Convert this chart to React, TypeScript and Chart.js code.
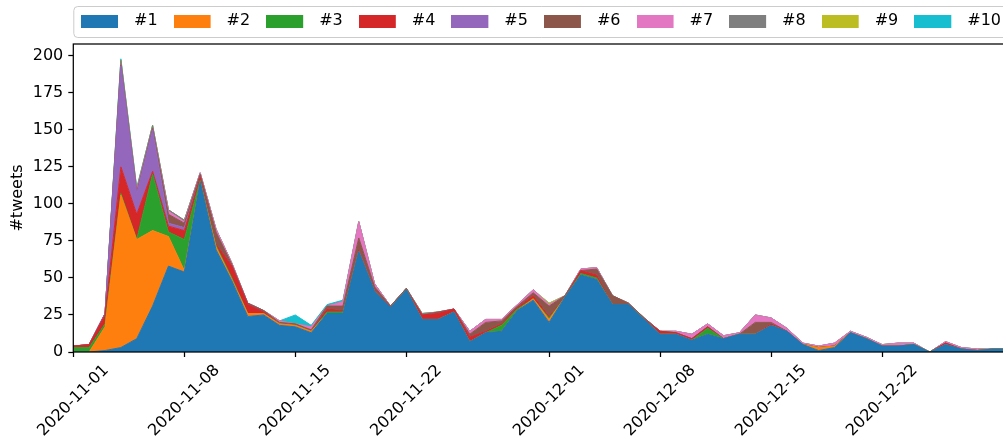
import React, { useEffect, useRef } from "react";
import { Chart, registerables } from "chart.js";

Chart.register(...registerables);

const dates = [
  "2020-11-01", "2020-11-02", "2020-11-03", "2020-11-04", "2020-11-05", "2020-11-06", "2020-11-07", "2020-11-08", "2020-11-09", "2020-11-10",
  "2020-11-11", "2020-11-12", "2020-11-13", "2020-11-14", "2020-11-15", "2020-11-16", "2020-11-17", "2020-11-18", "2020-11-19", "2020-11-20",
  "2020-11-21", "2020-11-22", "2020-11-23", "2020-11-24", "2020-11-25", "2020-11-26", "2020-11-27", "2020-11-28", "2020-11-29", "2020-11-30",
  "2020-12-01", "2020-12-02", "2020-12-03", "2020-12-04", "2020-12-05", "2020-12-06", "2020-12-07", "2020-12-08", "2020-12-09", "2020-12-10",
  "2020-12-11", "2020-12-12", "2020-12-13", "2020-12-14", "2020-12-15", "2020-12-16", "2020-12-17", "2020-12-18", "2020-12-19", "2020-12-20",
  "2020-12-21", "2020-12-22", "2020-12-23", "2020-12-24", "2020-12-25", "2020-12-26", "2020-12-27", "2020-12-28", "2020-12-29", "2020-12-30",
];

const tickLabels = ["2020-11-01", "2020-11-08", "2020-11-15", "2020-11-22", "2020-12-01", "2020-12-08", "2020-12-15", "2020-12-22"];
const yTicks = [0, 25, 50, 75, 100, 125, 150, 175, 200];

const seriesNames = ["#1", "#2", "#3", "#4", "#5", "#6", "#7", "#8", "#9", "#10"];
const colors = ["#1f77b4", "#ff7f0e", "#2ca02c", "#d62728", "#9467bd", "#8c564b", "#e377c2", "#7f7f7f", "#bcbd22", "#17becf"];

const s1 = [0, 0, 1, 3, 9, 31, 58, 54, 115, 69, 48, 24, 25, 18, 17, 13, 26, 26, 68, 41, 30, 42, 22, 22, 27, 7, 13, 14, 28, 35, 20, 37, 52, 49, 32, 32, 22, 12, 12, 8, 12, 9, 12, 12, 18, 14, 5, 1, 3, 13, 9, 4, 4, 5, 0, 5, 2, 1, 2, 2];
const s2 = [0, 0, 16, 103, 67, 51, 20, 1, 0, 2, 1, 2, 1, 1, 1, 1, 0, 0, 0, 0, 0, 0, 0, 0, 0, 0, 0, 0, 0, 1, 2, 0, 0, 0, 0, 0, 0, 0, 0, 0, 0, 0, 0, 0, 0, 0, 0, 2, 1, 0, 0, 0, 0, 0, 0, 0, 0, 0, 0, 0];
const s3 = [3, 3, 2, 1, 0, 38, 3, 21, 1, 1, 1, 0, 0, 0, 0, 0, 1, 1, 0, 0, 0, 0, 0, 0, 0, 0, 0, 4, 1, 0, 1, 0, 1, 1, 0, 0, 0, 0, 0, 0, 4, 0, 0, 0, 0, 0, 0, 0, 0, 0, 0, 0, 0, 0, 0, 0, 0, 0, 0, 0];
const s4 = [1, 2, 6, 18, 17, 2, 4, 6, 2, 1, 8, 6, 1, 0, 0, 0, 2, 1, 1, 1, 0, 0, 3, 4, 2, 3, 1, 1, 1, 2, 1, 0, 2, 2, 0, 0, 0, 2, 1, 1, 1, 0, 0, 0, 1, 0, 0, 0, 0, 0, 0, 0, 0, 0, 0, 1, 0, 0, 0, 0];
const s5 = [0, 0, 1, 68, 14, 28, 2, 2, 0, 0, 0, 0, 0, 0, 0, 0, 0, 0, 0, 0, 0, 0, 0, 0, 0, 0, 0, 0, 0, 0, 0, 0, 0, 0, 0, 0, 0, 0, 0, 0, 0, 0, 0, 0, 0, 0, 0, 0, 0, 0, 0, 0, 0, 0, 0, 0, 0, 0, 0, 0];
const s6 = [0, 0, 0, 1, 1, 1, 6, 3, 2, 8, 1, 1, 1, 1, 1, 1, 2, 3, 8, 2, 1, 1, 0, 1, 0, 2, 6, 2, 1, 2, 7, 1, 0, 4, 6, 1, 1, 0, 0, 0, 0, 0, 0, 8, 1, 0, 0, 0, 0, 0, 0, 0, 0, 0, 0, 0, 0, 0, 0, 0];
const s7 = [0, 0, 0, 0, 1, 0, 2, 1, 1, 2, 1, 0, 0, 1, 0, 2, 0, 3, 11, 2, 0, 0, 0, 0, 0, 2, 2, 1, 1, 2, 1, 0, 1, 1, 0, 0, 0, 0, 1, 3, 2, 2, 1, 5, 3, 2, 1, 1, 2, 1, 1, 1, 2, 1, 0, 1, 1, 1, 0, 0];
const s8 = [0, 0, 0, 3, 1, 2, 1, 1, 0, 0, 0, 0, 0, 0, 0, 0, 0, 0, 0, 0, 0, 0, 1, 0, 0, 0, 0, 0, 0, 0, 0, 0, 0, 0, 0, 0, 0, 0, 0, 0, 0, 0, 0, 0, 0, 0, 0, 0, 0, 0, 0, 0, 0, 0, 0, 0, 0, 0, 0, 0];
const s9 = [0, 0, 0, 0, 0, 0, 0, 0, 0, 0, 0, 0, 0, 0, 0, 0, 0, 0, 0, 0, 0, 0, 0, 0, 0, 0, 0, 0, 0, 0, 1, 0, 0, 0, 0, 0, 0, 0, 0, 0, 0, 0, 0, 0, 0, 0, 0, 0, 0, 0, 0, 0, 0, 0, 0, 0, 0, 0, 0, 0];
const s10 = [0, 0, 0, 1, 1, 0, 0, 0, 0, 0, 0, 0, 0, 0, 6, 1, 1, 1, 0, 0, 0, 0, 0, 0, 0, 0, 0, 0, 0, 0, 0, 0, 0, 0, 0, 0, 0, 0, 0, 0, 0, 0, 0, 0, 0, 0, 0, 0, 0, 0, 0, 0, 0, 0, 0, 0, 0, 0, 0, 0];

const series = [s1, s2, s3, s4, s5, s6, s7, s8, s9, s10];

const FONT = { family: "'DejaVu Sans', sans-serif", size: 16 };

function makePatch(color: string) {
  const c = document.createElement("canvas");
  c.width = 45;
  c.height = 13;
  const g = c.getContext("2d")!;
  g.fillStyle = color;
  g.fillRect(0, 0, 37, 13);
  return c;
}

const framePlugin = {
  id: "mplFrame",
  afterLayout(chart: any) {
    const lg = chart.legend;
    if (lg) {
      lg.left = 65;
      lg.right = 1400;
      lg.top = -3;
    }
  },
  beforeDraw(chart: any) {
    const { ctx, chartArea } = chart;
    ctx.save();
    ctx.fillStyle = "#ffffff";
    ctx.fillRect(0, 0, chart.width, chart.height);
    const x = chartArea.left + 0.5;
    const w = chartArea.right - chartArea.left - 1;
    ctx.beginPath();
    if (ctx.roundRect) ctx.roundRect(x, 6.5, w, 31, 4);
    else ctx.rect(x, 6.5, w, 31);
    ctx.fillStyle = "#ffffff";
    ctx.fill();
    ctx.strokeStyle = "#cccccc";
    ctx.lineWidth = 1;
    ctx.stroke();
    ctx.restore();
  },
  afterDatasetsDraw(chart: any) {
    const { ctx, chartArea: a } = chart;
    ctx.save();
    ctx.strokeStyle = "#000000";
    ctx.lineWidth = 1.25;
    ctx.strokeRect(a.left, a.top, a.right - a.left, a.bottom - a.top);
    ctx.restore();
  },
};

export default function App() {
  const ref = useRef<HTMLCanvasElement>(null);

  useEffect(() => {
    const canvas = ref.current;
    if (!canvas) return;
    const gridOpts = {
      display: true,
      drawOnChartArea: false,
      drawTicks: true,
      tickLength: 5,
      tickWidth: 1.25,
      tickColor: "#000000",
    };
    const chart = new Chart(canvas, {
      type: "line",
      data: {
        labels: dates,
        datasets: series.map((data, i) => ({
          label: seriesNames[i],
          data,
          backgroundColor: colors[i],
          borderColor: colors[i],
          borderWidth: 1,
          pointRadius: 0,
          pointHoverRadius: 0,
          tension: 0,
          fill: i === 0 ? "origin" : "-1",
        })),
      },
      options: {
        responsive: false,
        animation: false,
        devicePixelRatio: 1,
        events: [],
        layout: { padding: { top: 2, left: 0, right: 0, bottom: 0 } },
        plugins: {
          tooltip: { enabled: false },
          legend: {
            position: "top",
            align: "start",
            labels: {
              font: FONT,
              color: "#000000",
              usePointStyle: true,
              pointStyleWidth: 45,
              padding: 16,
              generateLabels: (ch: any) =>
                Chart.defaults.plugins.legend.labels.generateLabels(ch).map((it: any) => ({
                  ...it,
                  pointStyle: makePatch(colors[it.datasetIndex]),
                })),
            },
          },
        },
        scales: {
          x: {
            type: "category",
            afterBuildTicks: (axis: any) => {
              axis.ticks = tickLabels.map((l) => ({ value: dates.indexOf(l) }));
            },
            afterFit: (s: any) => {
              s.height = 85;
              s.paddingLeft = 0;
              s.paddingRight = 0;
            },
            ticks: {
              font: FONT,
              color: "#000000",
              maxRotation: 45,
              minRotation: 45,
              autoSkip: false,
              padding: 4,
              labelOffset: 33,
              callback: (v: any) => dates[v],
            },
            grid: gridOpts,
            border: { display: false },
          },
          y: {
            stacked: true,
            min: 0,
            max: 208,
            afterBuildTicks: (axis: any) => {
              axis.ticks = yTicks.map((v) => ({ value: v }));
            },
            afterFit: (s: any) => {
              s.width = 73.3;
            },
            ticks: { font: FONT, color: "#000000", padding: 5 },
            grid: gridOpts,
            border: { display: false },
            title: {
              display: true,
              text: "#tweets",
              font: FONT,
              color: "#000000",
              padding: { top: 8.7, bottom: 0 },
            },
          },
        },
      },
      plugins: [framePlugin],
    } as any);
    return () => chart.destroy();
  }, []);

  return (
    <div
      style={{
        position: "fixed",
        left: 0,
        top: 0,
        width: 1003,
        height: 437,
        overflow: "hidden",
        background: "#ffffff",
      }}
    >
      <canvas ref={ref} width={1009} height={437} style={{ display: "block" }} />
    </div>
  );
}
